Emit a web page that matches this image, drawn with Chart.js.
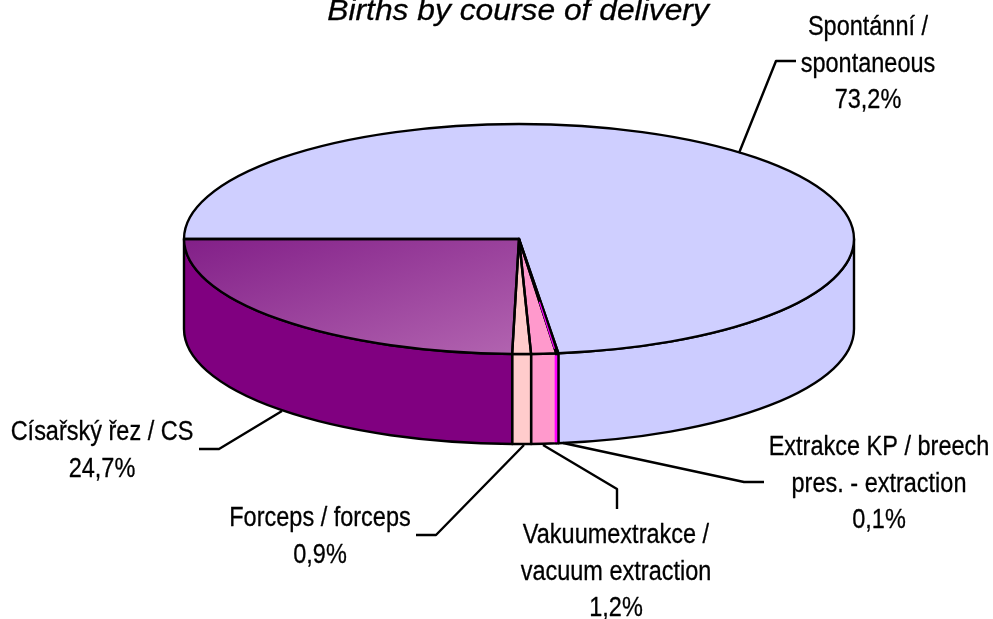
<!DOCTYPE html>
<html>
<head>
<meta charset="utf-8">
<style>html,body{margin:0;padding:0;background:#fff}#wrap{width:993px;height:619px;position:relative}canvas{display:block}</style>
<script src="https://cdn.jsdelivr.net/npm/chart.js@4"></script>
</head>
<body>
<div id="wrap"><canvas id="c" width="993" height="619"></canvas></div>
<script>
const titleText = 'Births by course of delivery';
const categories = ['Spontánní / spontaneous', 'Extrakce KP / breech pres. - extraction', 'Vakuumextrakce / vacuum extraction', 'Forceps / forceps', 'Císařský řez / CS'];
const values = [73.2, 0.1, 1.2, 0.9, 24.7];
const labelLines = [
  ['Spontánní /', 'spontaneous', '73,2%'],
  ['Extrakce KP / breech', 'pres. - extraction', '0,1%'],
  ['Vakuumextrakce /', 'vacuum extraction', '1,2%'],
  ['Forceps / forceps', '0,9%'],
  ['Císařský řez / CS', '24,7%']
];
const topColors = ['#CFCFFF', '#FF00FF', '#FF99CC', '#FFCCCC', null];
const wallColors = ['#CCCCFF', '#FF00FF', '#FF99CC', '#FFCCCC', '#800080'];
const gradientStops = ['#821F88', '#B264B0'];

// layout of the drawing (not data)
const RX = 335, RY = 115, DEPTH = 90, SQUASH = RY / RX, LINE_W = 2.4;
const labelCenters = [868, 879, 616, 320, 102];
const labelBaselines = [35, 455, 543, 526, 440];
const LINE_H = 36.5, FONT_PX = 27, FONT_SX = 0.87;
const leaders = [
  [[739,153],[776,61],[796,61]],
  [[563,443],[744,482],[764,482]],
  [[543,445],[617,489],[617,509]],
  [[524,445],[436,535],[416,535]],
  [[282,411],[219,449],[199,449]]
];

function arcs(chart){ return chart.getDatasetMeta(0).data; }

const pie3d = {
  id: 'pie3d',
  beforeDatasetsDraw(chart){
    const ctx = chart.ctx, list = arcs(chart);
    const cx = list[0].x, cy = list[0].y;
    ctx.save();
    ctx.lineWidth = LINE_W; ctx.strokeStyle = '#000'; ctx.lineJoin = 'round';
    list.forEach((el, i) => {
      let s = el.startAngle, e = el.endAngle;
      while (e > 2*Math.PI) { s -= 2*Math.PI; e -= 2*Math.PI; }
      const a = Math.max(s, 0), b = Math.min(e, Math.PI);
      if (b <= a) return;
      ctx.beginPath();
      ctx.ellipse(cx, cy, RX, RY, 0, a, b);
      ctx.ellipse(cx, cy + DEPTH, RX, RY, 0, b, a, true);
      ctx.closePath();
      ctx.fillStyle = wallColors[i];
      ctx.fill();
      ctx.stroke();
    });
    ctx.restore();
    ctx.save();
    ctx.translate(0, cy);
    ctx.scale(1, SQUASH);
    ctx.translate(0, -cy);
  },
  afterDatasetsDraw(chart){
    const ctx = chart.ctx, list = arcs(chart);
    ctx.restore();
    const cx = list[0].x, cy = list[0].y;
    ctx.save();
    ctx.lineWidth = LINE_W; ctx.strokeStyle = '#000'; ctx.lineJoin = 'round';
    list.forEach(el => {
      ctx.beginPath();
      ctx.moveTo(cx, cy);
      ctx.ellipse(cx, cy, RX, RY, 0, el.startAngle, el.endAngle);
      ctx.closePath();
      ctx.stroke();
    });
    // the thinnest slice keeps its colour visible between its outlines
    const thin = list[1], mid = (thin.startAngle + thin.endAngle) / 2 + 0.004;
    const px = cx + RX * Math.cos(mid), py = cy + RY * Math.sin(mid);
    ctx.strokeStyle = wallColors[1];
    ctx.lineWidth = 2.6;
    ctx.beginPath(); ctx.moveTo(px, py + 2); ctx.lineTo(px, py + DEPTH - 1); ctx.stroke();
    ctx.lineWidth = 1.2;
    ctx.beginPath();
    ctx.moveTo(cx + (px - cx) * 0.55, cy + (py - cy) * 0.55);
    ctx.lineTo(cx + (px - cx) * 0.96, cy + (py - cy) * 0.96);
    ctx.stroke();
    ctx.strokeStyle = '#000';
    ctx.lineWidth = LINE_W;
    // leader lines
    leaders.forEach(pts => {
      ctx.beginPath();
      pts.forEach((p, i) => i ? ctx.lineTo(p[0], p[1]) : ctx.moveTo(p[0], p[1]));
      ctx.stroke();
    });
    // labels
    ctx.fillStyle = '#000';
    ctx.strokeStyle = '#000';
    ctx.lineWidth = 0.3;
    ctx.textAlign = 'center';
    ctx.textBaseline = 'alphabetic';
    ctx.font = FONT_PX + 'px "Liberation Sans", Arial, sans-serif';
    labelLines.forEach((lines, i) => {
      lines.forEach((t, j) => {
        ctx.save();
        ctx.translate(labelCenters[i], labelBaselines[i] + j * LINE_H);
        ctx.scale(FONT_SX, 1);
        ctx.fillText(t, 0, 0);
        ctx.strokeText(t, 0, 0);
        ctx.restore();
      });
    });
    // title
    ctx.font = 'italic 29px "Liberation Sans", Arial, sans-serif';
    ctx.save();
    ctx.translate(518, 20);
    ctx.scale(1.096, 1);
    ctx.fillText(titleText, 0, 0);
    ctx.strokeText(titleText, 0, 0);
    ctx.restore();
    ctx.restore();
  }
};

new Chart(document.getElementById('c'), {
  type: 'pie',
  data: {
    labels: categories,
    datasets: [{
      data: values,
      backgroundColor(c){
        const i = c.dataIndex;
        if (topColors[i]) return topColors[i];
        const area = c.chart.chartArea;
        if (!area) return wallColors[i];
        const cx = (area.left + area.right) / 2, cy = (area.top + area.bottom) / 2;
        const g = c.chart.ctx.createLinearGradient(cx - RX, cy, cx, cy + RX);
        g.addColorStop(0, gradientStops[0]);
        g.addColorStop(1, gradientStops[1]);
        return g;
      },
      borderWidth: 0,
      radius: RX,
      rotation: -90
    }]
  },
  options: {
    responsive: false,
    animation: false,
    layout: { padding: { left: 45, top: 0, right: 0, bottom: 141 } },
    plugins: { legend: { display: false }, title: { display: false }, tooltip: { enabled: false } }
  },
  plugins: [pie3d]
});
</script>
</body>
</html>
